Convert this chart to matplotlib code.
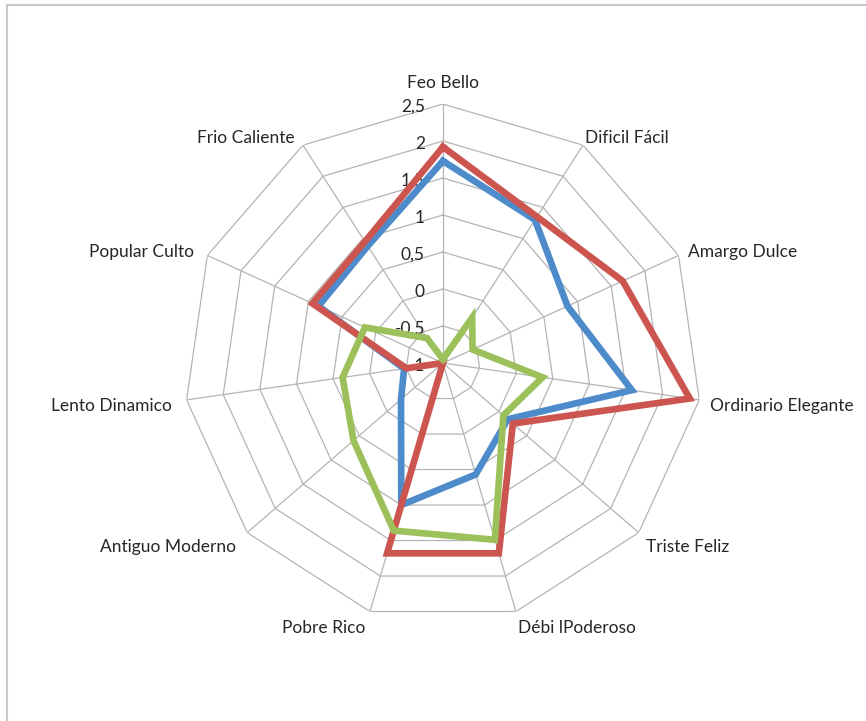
import numpy as np
import matplotlib.pyplot as plt
from matplotlib.lines import Line2D

plt.rcParams['font.family'] = ['Lato', 'DejaVu Sans']

categories = ['Feo Bello', 'Dificil Fácil', 'Amargo Dulce', 'Ordinario Elegante',
              'Triste Feliz', 'Débi lPoderoso', 'Pobre Rico', 'Antiguo Moderno',
              'Lento Dinamico', 'Popular Culto', 'Frio Caliente']

serie_azul = [1.73, 1.3, 0.85, 1.58, 0.16, 0.57, 1.0, -0.25, -0.47, 0.85, 0.88]
serie_roja = [1.92, 1.35, 1.67, 2.37, 0.25, 1.68, 1.68, -1.0, -0.5, 0.94, 0.95]
serie_verde = [-0.95, -0.27, -0.56, 0.36, 0.08, 1.49, 1.36, 0.6, 0.37, 0.16, -0.6]

niveles = [-1, -0.5, 0, 0.5, 1, 1.5, 2, 2.5]
etiquetas_niveles = ['-1', '-0,5', '0', '0,5', '1', '1,5', '2', '2,5']

colores = ['#4D8BCB', '#CC5550', '#9CC15A']

fig = plt.figure(figsize=(8.66, 7.21), dpi=100)
ax = fig.add_axes([0.2124, 0.1373, 0.5982, 0.7184], projection='polar')
ax.set_theta_offset(np.pi / 2)
ax.set_theta_direction(-1)
ax.set_rlim(niveles[0], niveles[-1])
ax.grid(False)
ax.set_xticks([])
ax.set_yticks([])
ax.spines['polar'].set_visible(False)
ax.patch.set_visible(False)

n = len(categories)
ang = np.linspace(0, 2 * np.pi, n, endpoint=False)
ang_c = np.append(ang, ang[0])

# rejilla poligonal
for r in niveles[1:]:
    ax.plot(ang_c, [r] * (n + 1), color='#b4b4b4', lw=0.9, zorder=1)
for a in ang:
    ax.plot([a, a], [niveles[0], niveles[-1]], color='#b4b4b4', lw=0.9, zorder=1)

# etiquetas del eje de valores
for r, txt in zip(niveles, etiquetas_niveles):
    ax.annotate(txt, xy=(0, r), xytext=(-18, -3), textcoords='offset pixels',
                ha='right', va='center', fontsize=12.5, color='#262626', zorder=2)

# series
for serie, col in zip([serie_azul, serie_roja, serie_verde], colores):
    vals = np.append(serie, serie[0])
    ax.plot(ang_c, vals, color=col, lw=4.8, solid_joinstyle='miter', zorder=3)

# etiquetas de categorias
desplaz = [(0, 21, 'center'), (2, 7, 'left'), (9, 3, 'left'), (11, -6, 'left'),
           (7, -14, 'left'), (2, -16, 'left'), (-5, -16, 'right'), (-11, -14, 'right'),
           (-15, -6, 'right'), (-13, 3, 'right'), (-8, 7, 'right')]
for a, cat, (dx, dy, ha) in zip(ang, categories, desplaz):
    ax.annotate(cat, xy=(a, niveles[-1]), xytext=(dx, dy), textcoords='offset pixels',
                ha=ha, va='center', fontsize=12.5, color='#262626', annotation_clip=False)

# marco del grafico
fig.add_artist(Line2D([7 / 866, 1], [1 - 5 / 721, 1 - 5 / 721], color='#c8c8c8', lw=1.5))
fig.add_artist(Line2D([7 / 866, 7 / 866], [0, 1 - 5 / 721], color='#c8c8c8', lw=1.5))

fig.savefig('out.png', dpi=100)
